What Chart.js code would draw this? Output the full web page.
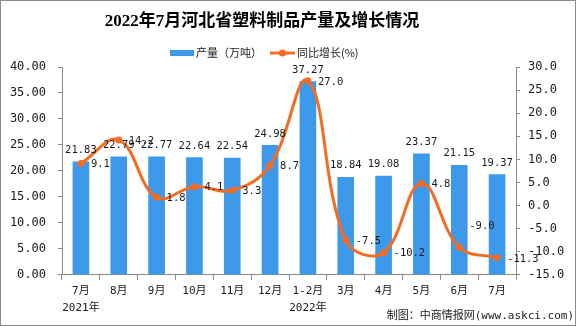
<!DOCTYPE html>
<html>
<head>
<meta charset="utf-8">
<script src="https://cdn.jsdelivr.net/npm/chart.js@4/dist/chart.umd.min.js"></script>
<style>
  html, body { margin: 0; padding: 0; background: #fff; }
</style>
</head>
<body>
<canvas id="chart" width="576" height="326"></canvas>
<script>
// data
const months = [['7月', '2021年'], '8月', '9月', '10月', '11月', '12月', ['1-2月', '2022年'], '3月', '4月', '5月', '6月', '7月'];
const output = [21.83, 22.79, 22.77, 22.64, 22.54, 24.98, 37.27, 18.84, 19.08, 23.37, 21.15, 19.37];
const growth = [9.1, 14.2, 1.8, 4.1, 3.3, 8.7, 27.0, -7.5, -10.2, 4.8, -9.0, -11.3];

const titleText = '2022年7月河北省塑料制品产量及增长情况';
const footerText = '制图：中商情报网(www.askci.com)';

const barColor = '#3D9AEA';
const lineColor = '#F36C21';
const axisColor = '#8A8A8A';
const textColor = '#1A1A1A';
const monoFont = "'DejaVu Sans Mono', 'Noto Sans CJK SC', monospace";
const cjkFont = "'Noto Sans CJK SC', sans-serif";

// title, legend, labels, footer, frame
const decor = {
    id: 'decor',
    beforeDraw: (chart) => {
        const ctx = chart.ctx;
        ctx.save();
        ctx.fillStyle = '#fff';
        ctx.fillRect(0, 0, chart.width, chart.height);
        ctx.restore();
    },
    afterDatasetsDraw: (chart) => {
        const ctx = chart.ctx;
        ctx.save();
        ctx.fillStyle = textColor;
        ctx.font = '10.5px ' + monoFont;

        // bar values above the bars
        ctx.textAlign = 'center';
        ctx.textBaseline = 'bottom';
        chart.getDatasetMeta(0).data.forEach((bar, i) => {
            ctx.fillText(output[i].toFixed(2), bar.x, bar.y - 6);
        });

        // growth values to the right of the points
        ctx.textAlign = 'left';
        ctx.textBaseline = 'middle';
        chart.getDatasetMeta(1).data.forEach((pt, i) => {
            const dy = i === 10 ? -21 : 1;
            ctx.fillText(growth[i].toFixed(1), pt.x + 10, pt.y + dy);
        });
        ctx.restore();
    },
    afterDraw: (chart) => {
        const ctx = chart.ctx;
        const ds = chart.data.datasets;
        ctx.save();

        // title
        ctx.fillStyle = '#000';
        ctx.font = "bold 17px 'Liberation Serif', 'Noto Sans CJK SC', serif";
        ctx.textAlign = 'center';
        ctx.textBaseline = 'middle';
        ctx.fillText(titleText, 262, 22);

        // legend
        ctx.font = '11px ' + cjkFont;
        ctx.textAlign = 'left';
        ctx.fillStyle = barColor;
        ctx.fillRect(170, 50, 24, 6);
        ctx.fillStyle = textColor;
        ctx.fillText(ds[0].label, 196, 53);

        ctx.strokeStyle = lineColor;
        ctx.lineWidth = 3;
        ctx.beginPath();
        ctx.moveTo(270, 53);
        ctx.lineTo(295, 53);
        ctx.stroke();
        ctx.fillStyle = lineColor;
        ctx.beginPath();
        ctx.arc(282.5, 53, 3.5, 0, Math.PI * 2);
        ctx.fill();
        ctx.fillStyle = textColor;
        ctx.fillText(ds[1].label, 297, 53);

        // footer
        ctx.font = '11px ' + monoFont;
        ctx.textAlign = 'right';
        ctx.fillText(footerText, 574, 316);

        // frame
        ctx.strokeStyle = axisColor;
        ctx.lineWidth = 1;
        ctx.strokeRect(0.5, 0.5, chart.width - 1, chart.height - 1);
        ctx.restore();
    }
};

const tickFont = { family: monoFont, size: 12 };

new Chart(document.getElementById('chart').getContext('2d'), {
    type: 'bar',
    data: {
        labels: months,
        datasets: [
            {
                label: '产量（万吨）',
                data: output,
                backgroundColor: barColor,
                barPercentage: 0.44,
                categoryPercentage: 1,
                yAxisID: 'y',
                order: 2
            },
            {
                type: 'line',
                label: '同比增长(%)',
                data: growth,
                borderColor: lineColor,
                backgroundColor: lineColor,
                borderWidth: 3,
                tension: 0.4,
                pointRadius: 3.5,
                pointBorderWidth: 0,
                pointBackgroundColor: lineColor,
                yAxisID: 'y1',
                order: 1
            }
        ]
    },
    options: {
        responsive: false,
        animation: false,
        devicePixelRatio: 1,
        layout: { padding: { top: 67, bottom: 6, left: 0, right: 0 } },
        plugins: {
            legend: { display: false },
            title: { display: false },
            tooltip: { enabled: false }
        },
        scales: {
            x: {
                grid: { drawOnChartArea: false, color: axisColor, tickLength: 5 },
                border: { color: axisColor },
                ticks: {
                    color: textColor,
                    font: { family: monoFont, size: 11, lineHeight: 1.55 },
                    padding: 3,
                    maxRotation: 0,
                    autoSkip: false
                }
            },
            y: {
                position: 'left',
                min: 0,
                max: 40,
                grid: { drawOnChartArea: false, color: axisColor, tickLength: 4 },
                border: { color: axisColor },
                ticks: { stepSize: 5, color: textColor, font: tickFont, padding: 12, callback: v => v.toFixed(2) },
                afterFit: s => { s.width = 62; }
            },
            y1: {
                position: 'right',
                min: -15,
                max: 30,
                grid: { drawOnChartArea: false, color: axisColor, tickLength: 4 },
                border: { color: axisColor },
                ticks: { stepSize: 5, color: textColor, font: tickFont, padding: 8, callback: v => v.toFixed(1) },
                afterFit: s => { s.width = 60; }
            }
        }
    },
    plugins: [decor]
});
</script>
</body>
</html>
